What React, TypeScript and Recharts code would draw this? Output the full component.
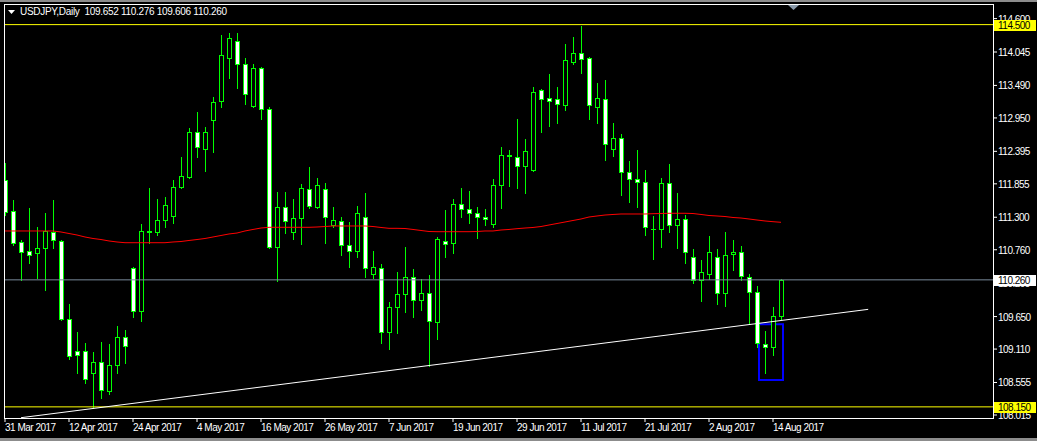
import React from "react";
import { ComposedChart, Bar, Line, XAxis, YAxis, ReferenceLine, ReferenceArea } from "recharts";

// USDJPY daily, 31 Mar 2017 .. 15 Aug 2017 (98 bars)
const opens = [
  111.919, 111.404, 110.889, 110.740, 110.706, 110.789, 111.055, 110.906, 109.610, 109.078,
  109.078, 108.713, 108.896, 108.414, 108.846, 109.311, 110.457, 109.743, 111.055, 111.055,
  111.254, 111.321, 111.803, 111.969, 112.716, 112.434, 112.915, 113.231, 113.945, 114.228,
  113.846, 113.148, 113.779, 113.098, 110.806, 111.470, 111.055, 111.287, 111.769, 111.470,
  111.769, 111.171, 111.238, 110.839, 110.740, 111.304, 110.358, 110.457, 109.394, 109.809,
  110.025, 110.308, 109.925, 110.042, 109.560, 110.906, 110.872, 111.520, 111.437, 111.371,
  111.304, 111.188, 111.836, 112.318, 112.301, 112.151, 112.085, 113.414, 113.281, 113.264,
  113.165, 113.879, 114.028, 113.945, 113.131, 113.264, 112.434, 112.616, 112.052, 111.935,
  111.886, 111.097, 111.105, 111.869, 111.171, 111.271, 110.640, 110.258, 110.358, 110.640,
  110.042, 110.690, 110.723, 110.308, 110.058, 109.195, 109.145, 109.652,
];
const highs = [
  112.201, 111.587, 110.922, 111.454, 111.138, 111.371, 111.587, 110.922, 109.859, 109.394,
  109.211, 109.062, 109.228, 109.195, 109.494, 109.427, 110.474, 111.188, 111.786, 111.603,
  111.636, 111.919, 112.301, 112.783, 113.048, 112.799, 113.297, 114.327, 114.361, 114.361,
  113.945, 113.846, 113.796, 113.131, 111.719, 111.719, 111.603, 111.852, 112.135, 111.952,
  111.869, 111.470, 111.304, 111.221, 111.487, 111.703, 110.740, 110.523, 109.892, 110.391,
  110.806, 110.441, 110.274, 110.341, 110.972, 111.420, 111.603, 111.786, 111.736, 111.470,
  111.437, 111.935, 112.467, 112.417, 112.932, 112.600, 113.464, 113.430, 113.680, 113.464,
  114.178, 114.294, 114.477, 113.962, 113.530, 113.580, 112.866, 112.683, 112.234, 112.417,
  112.085, 111.321, 111.952, 112.185, 111.703, 111.337, 110.773, 110.590, 110.989, 110.773,
  111.055, 110.922, 110.822, 110.358, 110.158, 109.411, 109.809, 110.276,
];
const lows = [
  111.337, 110.839, 110.258, 110.540, 110.291, 110.092, 110.789, 109.593, 108.945, 108.713,
  108.547, 108.131, 108.298, 108.364, 108.713, 108.878, 109.643, 109.577, 110.872, 111.005,
  111.138, 111.205, 111.786, 111.952, 112.301, 112.068, 112.384, 113.131, 113.613, 113.447,
  113.181, 113.131, 112.932, 110.789, 110.241, 111.038, 110.939, 110.856, 111.454, 111.454,
  110.872, 111.138, 110.673, 110.474, 110.640, 110.308, 110.291, 109.211, 109.112, 109.377,
  109.726, 109.643, 109.759, 108.829, 109.278, 110.640, 110.706, 111.304, 111.205, 110.955,
  111.171, 111.138, 111.454, 111.819, 111.786, 111.703, 112.068, 112.716, 112.816, 112.866,
  113.082, 113.846, 113.696, 112.932, 112.866, 112.251, 112.318, 111.670, 111.553, 111.470,
  111.005, 110.607, 110.806, 111.055, 110.789, 110.540, 110.208, 109.909, 110.274, 109.859,
  109.826, 110.424, 110.258, 109.543, 109.145, 108.713, 109.012, 109.606,
];
const closes = [
  111.387, 110.872, 110.723, 110.673, 110.789, 111.072, 110.922, 109.610, 108.995, 109.012,
  108.613, 108.896, 108.431, 108.846, 109.311, 109.162, 109.743, 111.072, 111.072, 111.254,
  111.504, 111.803, 111.985, 112.716, 112.467, 112.716, 113.214, 113.995, 114.278, 113.846,
  113.347, 113.779, 113.098, 110.806, 111.470, 111.238, 111.287, 111.786, 111.487, 111.836,
  111.304, 111.254, 110.839, 110.740, 111.371, 110.457, 110.474, 109.394, 109.809, 110.025,
  110.308, 109.925, 110.042, 109.577, 110.939, 110.856, 111.520, 111.437, 111.371, 111.304,
  111.271, 111.836, 112.334, 112.334, 112.151, 112.401, 113.381, 113.264, 113.231, 113.181,
  113.912, 114.028, 113.929, 113.165, 113.281, 112.517, 112.616, 112.052, 111.935, 111.886,
  111.138, 111.105, 111.869, 111.171, 111.271, 110.723, 110.258, 110.391, 110.723, 110.042,
  110.673, 110.723, 110.324, 110.058, 109.211, 109.145, 109.660, 110.260,
];
// red moving average
const ma = [
  111.072, 111.072, 111.072, 111.072, 111.072, 111.072, 111.072, 111.055, 111.030, 111.005,
  110.972, 110.947, 110.930, 110.906, 110.889, 110.877, 110.877, 110.877, 110.877, 110.877,
  110.877, 110.889, 110.897, 110.914, 110.930, 110.947, 110.972, 110.997, 111.022, 111.038,
  111.072, 111.097, 111.121, 111.133, 111.133, 111.133, 111.133, 111.133, 111.133, 111.138,
  111.146, 111.155, 111.155, 111.155, 111.155, 111.155, 111.146, 111.130, 111.116, 111.116,
  111.113, 111.097, 111.080, 111.063, 111.060, 111.060, 111.060, 111.060, 111.060, 111.063,
  111.072, 111.072, 111.088, 111.097, 111.110, 111.121, 111.130, 111.146, 111.171, 111.196,
  111.221, 111.246, 111.271, 111.304, 111.321, 111.337, 111.346, 111.354, 111.354, 111.354,
  111.354, 111.359, 111.362, 111.366, 111.366, 111.366, 111.362, 111.346, 111.329, 111.321,
  111.312, 111.296, 111.287, 111.271, 111.254, 111.238, 111.226, 111.216,
];

const dateTicks = [0, 8, 16, 24, 32, 40, 48, 56, 64, 72, 80, 88, 96];
const dateLabels = [
  "31 Mar 2017", "12 Apr 2017", "24 Apr 2017", "4 May 2017", "16 May 2017", "26 May 2017",
  "7 Jun 2017", "19 Jun 2017", "29 Jun 2017", "11 Jul 2017", "21 Jul 2017", "2 Aug 2017", "14 Aug 2017",
];
const priceTicks = [114.6, 114.045, 113.49, 112.95, 112.395, 111.855, 111.3, 110.76, 110.205, 109.65, 109.11, 108.555, 108.015];

const yellowLevels = [114.5, 108.15];
const bidPrice = 110.26;
const boxLevels = [114.5, 110.26, 108.15];
const trendLine = [{ i: 2, p: 107.97 }, { i: 107.9, p: 109.77 }];
const boxArea = { i1: 94.25, i2: 97.25, p1: 108.596, p2: 109.523 };

const data = opens.map((o, i) => ({
  i,
  open: o,
  high: highs[i],
  low: lows[i],
  close: closes[i],
  range: [lows[i], highs[i]],
  ma: ma[i],
}));

const FONT = "'Liberation Sans', Arial, sans-serif";
const GREEN = "#00ff00";
const AXIS_W = 43;
const Y_DOMAIN = [107.965, 114.826];

function Candle(props: any) {
  const { x, y, width, height, payload } = props;
  if (!payload) return null;
  const { open, close, high, low } = payload;
  const top = Math.min(y, y + height);
  const bot = Math.max(y, y + height);
  const toY = (p: number) => (high === low ? top : top + ((high - p) / (high - low)) * (bot - top));
  const cx = Math.round(x + width / 2);
  const yO = Math.round(toY(open));
  const yC = Math.round(toY(close));
  const bTop = Math.min(yO, yC);
  const bBot = Math.max(yO, yC);
  const up = close >= open;
  return (
    <g>
      <line x1={cx + 0.5} x2={cx + 0.5} y1={Math.round(top)} y2={Math.round(bot) + 1} stroke={GREEN} />
      {bBot - bTop < 1 ? (
        <line x1={cx - 2} x2={cx + 3} y1={bTop + 0.5} y2={bTop + 0.5} stroke={GREEN} />
      ) : (
        <rect x={cx - 1.5} y={bTop + 0.5} width={4} height={bBot - bTop} fill={up ? "#000000" : "#ffffff"} stroke={GREEN} />
      )}
    </g>
  );
}

function DateTick(props: any) {
  const { x, y, payload } = props;
  const idx = dateTicks.indexOf(payload.value);
  return (
    <text x={x} y={y + 7} fill="#ffffff" fontSize={10} fontFamily={FONT} letterSpacing={-0.5} textAnchor="start">
      {idx >= 0 ? dateLabels[idx] : ""}
    </text>
  );
}

function PriceTick(props: any) {
  const { x, y, payload } = props;
  return (
    <text x={x} y={y + 4} fill="#ffffff" fontSize={10} fontFamily={FONT} letterSpacing={-0.5} textAnchor="start">
      {Number(payload.value).toFixed(3)}
    </text>
  );
}

// boxed price labels, drawn by a second (1px) right axis so they sit above the tick texts
function BoxTick(props: any) {
  const { x, y, payload } = props;
  const v = Number(payload.value);
  const bg = v === bidPrice ? "#ffffff" : "#ffff00";
  const bx = x - AXIS_W + 1;
  const by = Math.round(y);
  return (
    <g>
      <rect x={bx} y={by - 5} width={42} height={11} fill={bg} />
      <text x={bx + 4} y={by + 4} fill="#000000" fontSize={10} fontFamily={FONT} letterSpacing={-0.5}>
        {v.toFixed(3)}
      </text>
    </g>
  );
}

export default function App() {
  return (
    <div style={{ position: "absolute", left: 0, top: 0, width: 1037, height: 441, background: "#000000", overflow: "hidden" }}>
      <style>{"body{margin:0;background:#000}"}</style>
      <div style={{ position: "absolute", left: 0, top: 0, width: 1037, height: 2, background: "#8c8c8c" }} />
      <div style={{ position: "absolute", left: 0, top: 438, width: 1037, height: 3, background: "#8c8c8c" }} />
      <ComposedChart width={1037} height={441} data={data} margin={{ top: 5, right: 0, bottom: 0, left: 5 }}>
        <XAxis
          type="number"
          dataKey="i"
          domain={[0, 123.5]}
          ticks={dateTicks}
          interval={0}
          allowDataOverflow
          height={23}
          tickSize={4}
          tickMargin={2}
          axisLine={false}
          tickLine={{ stroke: "#ffffff" }}
          tick={<DateTick />}
        />
        <YAxis
          orientation="right"
          type="number"
          domain={Y_DOMAIN}
          ticks={priceTicks}
          interval={0}
          allowDataOverflow
          width={AXIS_W}
          tickSize={4}
          tickMargin={1}
          axisLine={false}
          tickLine={{ stroke: "#ffffff" }}
          tick={<PriceTick />}
        />
        <YAxis
          yAxisId="boxes"
          orientation="right"
          type="number"
          domain={Y_DOMAIN}
          ticks={boxLevels}
          interval={0}
          allowDataOverflow
          width={1}
          tickSize={0}
          tickMargin={0}
          axisLine={false}
          tickLine={false}
          tick={<BoxTick />}
        />
        <ReferenceLine y={bidPrice} stroke="#778899" />
        {yellowLevels.map((lv) => (
          <ReferenceLine key={lv} y={lv} stroke="#ffff00" />
        ))}
        <Line dataKey="ma" type="linear" stroke="#ff0000" strokeWidth={1} dot={false} activeDot={false} isAnimationActive={false} />
        <Bar dataKey="range" barSize={6} shape={(p: any) => <Candle {...p} />} isAnimationActive={false} />
        <ReferenceLine
          segment={[{ x: trendLine[0].i, y: trendLine[0].p }, { x: trendLine[1].i, y: trendLine[1].p }]}
          stroke="#ffffff"
          strokeWidth={1}
        />
        <ReferenceArea x1={boxArea.i1} x2={boxArea.i2} y1={boxArea.p1} y2={boxArea.p2} fill="none" fillOpacity={0} stroke="#0000ff" strokeWidth={2} />
      </ComposedChart>
      <div style={{ position: "absolute", left: 4, top: 4, width: 990, height: 415, border: "1px solid #ffffff", boxSizing: "border-box", pointerEvents: "none" }} />
      <svg style={{ position: "absolute", left: 0, top: 0, pointerEvents: "none" }} width={1037} height={20}>
        <polygon points="8,10 15,10 11.5,14" fill="#ffffff" />
        <polygon points="788,5 799,5 793.5,10" fill="#8898a8" />
      </svg>
      <div style={{ position: "absolute", left: 20, top: 6, color: "#ffffff", fontSize: 10, fontFamily: FONT, letterSpacing: -0.3, whiteSpace: "pre", lineHeight: "12px" }}>
        {"USDJPY,Daily  109.652 110.276 109.606 110.260"}
      </div>
    </div>
  );
}
